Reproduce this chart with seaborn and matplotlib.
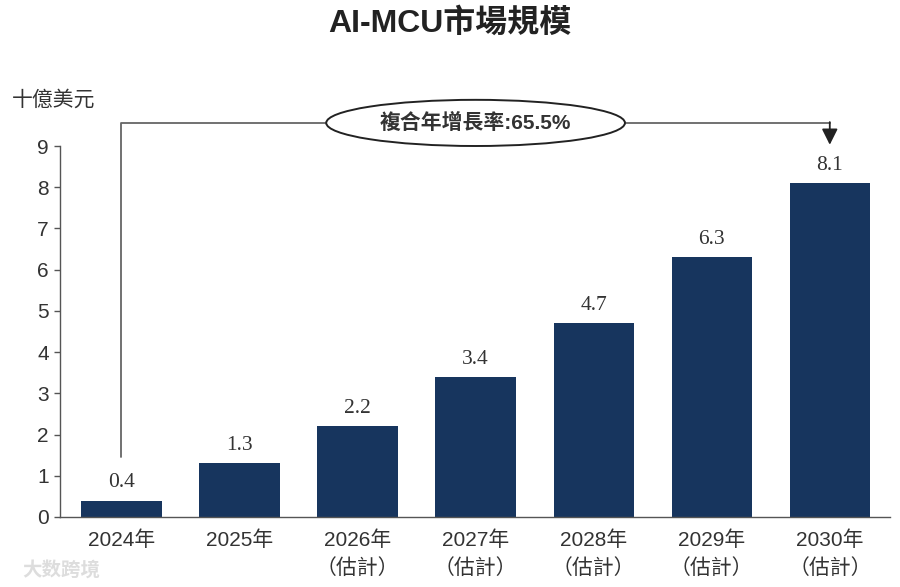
import matplotlib
matplotlib.use("Agg")
import matplotlib.pyplot as plt
from matplotlib.patches import Ellipse
import seaborn as sns
import pandas as pd

# ---- data ----
years = ["2024年", "2025年", "2026年", "2027年", "2028年", "2029年", "2030年"]
estimate_flags = [False, False, True, True, True, True, True]
values = [0.4, 1.3, 2.2, 3.4, 4.7, 6.3, 8.1]
value_labels = ["0.4", "1.3", "2.2", "3.4", "4.7", "6.3", "8.1"]
title = "AI-MCU市場規模"
unit_label = "十億美元"
cagr_text = "複合年增長率:65.5%"
estimate_text = "（估計）"
yticks = list(range(0, 10))

sns.set_theme(style="white")
plt.rcParams["font.family"] = ["Liberation Sans", "Noto Sans CJK TC", "DejaVu Sans"]

bar_color = "#17355e"
line_color = "#666666"
text_color = "#333333"

df = pd.DataFrame({"year": years, "value": values})

fig = plt.figure(figsize=(9, 5.87), dpi=100)
ax = fig.add_axes([60 / 900, 1 - 517 / 587, 830 / 900, (517 - 146) / 587])

sns.barplot(data=df, x="year", y="value", color=bar_color, width=0.68,
            saturation=1, ax=ax, zorder=2, linewidth=0)

ax.set_ylim(0, 9)
ax.set_xlim(-0.52, 6.51)
ax.set_yticks(yticks)
ax.set_yticklabels([str(t) for t in yticks])
ax.set_xlabel("")
ax.set_ylabel("")

xlabels = [y + ("\n" + estimate_text if e else "") for y, e in zip(years, estimate_flags)]
ax.set_xticks(range(len(years)))
ax.set_xticklabels(xlabels, fontsize=15, color=text_color, linespacing=1.45, va="top")

ax.tick_params(axis="y", left=True, length=4, width=1, color="#555555",
               labelsize=15, labelcolor=text_color, pad=4, direction="out")
ax.tick_params(axis="x", bottom=False, length=0, pad=10)

for s in ["top", "right"]:
    ax.spines[s].set_visible(False)
for s in ["left", "bottom"]:
    ax.spines[s].set_color("#555555")
    ax.spines[s].set_linewidth(1)

# value labels
ax.bar_label(ax.containers[0], labels=value_labels, padding=6,
             fontsize=15.5, family="Liberation Serif", color=text_color)

# CAGR bracket
top_y = max(values) + 1.46
start_y = values[0] + 1.06
end_y = max(values) + 0.93
ax.plot([0, 0, len(values) - 1], [start_y, top_y, top_y], color=line_color,
        lw=1.3, clip_on=False, zorder=3)
ax.annotate("", xy=(len(values) - 1, end_y), xytext=(len(values) - 1, top_y + 0.02),
            arrowprops=dict(arrowstyle="-|>,head_length=0.8,head_width=0.4",
                            color="#222222", lw=1.3, shrinkA=0, shrinkB=0),
            annotation_clip=False, zorder=3)
ell = Ellipse(((len(values) - 1) / 2, top_y), width=2.53, height=1.12,
              facecolor="white", edgecolor="#222222", lw=1.4, clip_on=False, zorder=4)
ax.add_patch(ell)
ax.text((len(values) - 1) / 2, top_y, cagr_text, ha="center", va="center",
        fontsize=15, fontweight="bold", color=text_color, zorder=5)

# title & unit
fig.text(0.5, 1 - 23 / 587, title, ha="center", va="center", fontsize=23,
         fontweight="bold", color="#222222")
fig.text(12 / 900, 1 - 100 / 587, unit_label, ha="left", va="center", fontsize=15,
         color=text_color)

# faint watermark
fig.text(22 / 900, 1 - 570 / 587, "大数跨境", ha="left", va="center", fontsize=14,
         color="#dddddd", fontweight="bold")

fig.savefig("out.png", dpi=100)
